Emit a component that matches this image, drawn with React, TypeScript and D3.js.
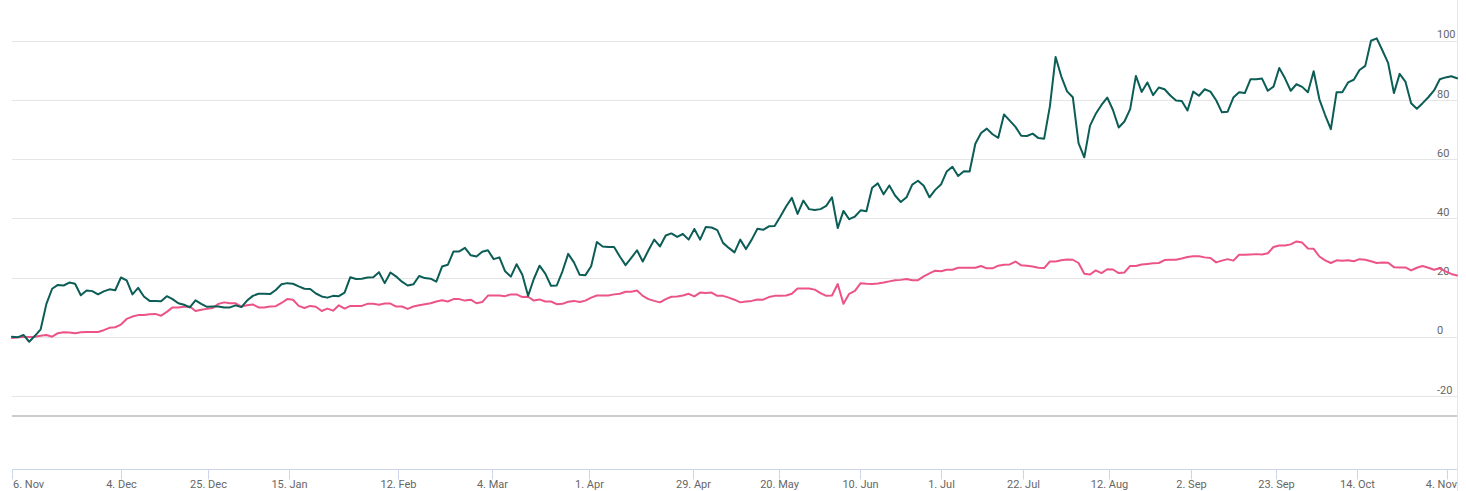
import React from "react";
import * as d3 from "d3";

// ---- data (one point per trading session) ----
const greenSeries: number[] = [
  0.2, 0, 0.8, -1.5, 0.5, 2.7, 11.3, 16.4, 17.7, 17.5,
  18.5, 18.1, 14.2, 15.8, 15.6, 14.5, 15.5, 16.2, 15.9, 20.2,
  19.2, 14.5, 16.7, 13.8, 12.3, 12.3, 12.2, 13.9, 12.9, 11.5,
  11.0, 10.1, 12.5, 11.3, 10.3, 10.4, 10.4, 10.1, 10.1, 10.8,
  10.2, 12.4, 14.0, 14.7, 14.7, 14.6, 16.0, 17.9, 18.3, 18.1,
  17.2, 16.4, 16.3, 14.8, 13.8, 13.4, 14.0, 13.9, 15.1, 20.3,
  19.7, 19.8, 20.2, 20.3, 22.0, 18.3, 21.9, 20.5, 18.8, 17.5,
  17.9, 20.7, 20.0, 19.8, 18.8, 23.9, 24.5, 29.0, 29.0, 30.2,
  27.7, 27.3, 28.9, 29.4, 26.4, 27.0, 22.3, 20.5, 24.7, 21.1,
  14.0, 19.7, 24.2, 21.5, 17.4, 17.5, 22.3, 28.2, 25.3, 21.1,
  21.0, 24.0, 32.2, 30.7, 30.5, 30.5, 27.3, 24.4, 26.8, 29.4,
  25.6, 29.4, 33.0, 30.7, 34.4, 35.1, 33.9, 34.9, 33.0, 36.6,
  33.0, 37.3, 37.1, 36.2, 31.9, 30.2, 28.7, 33.0, 29.8, 33.0,
  36.7, 36.3, 37.5, 37.6, 40.8, 44.2, 47.1, 41.7, 46.2, 43.3,
  43.0, 43.3, 44.4, 47.3, 36.9, 42.7, 39.9, 40.8, 42.9, 42.6,
  50.5, 52.0, 48.3, 51.3, 47.9, 45.7, 47.3, 51.6, 52.9, 51.2,
  47.3, 49.8, 51.6, 56.0, 57.6, 54.5, 56.1, 56.0, 65.4, 69.0,
  70.5, 68.6, 67.4, 75.3, 73.2, 71.1, 68.1, 68.0, 68.8, 67.3,
  67.1, 78.0, 94.7, 88.1, 83.1, 81.1, 65.6, 60.8, 71.5, 75.5,
  78.5, 81.0, 76.8, 70.9, 72.9, 77.1, 88.3, 82.9, 86.1, 81.8,
  84.4, 83.8, 81.7, 80.0, 79.8, 76.6, 83.0, 81.6, 83.8, 83.0,
  80.1, 76.0, 76.2, 81.0, 82.8, 82.5, 87.2, 87.2, 87.4, 83.3,
  84.7, 91.0, 87.5, 83.3, 85.5, 84.6, 82.8, 89.9, 80.4, 75.1,
  70.3, 82.8, 82.8, 86.1, 87.0, 90.3, 91.7, 100.2, 101.0, 96.9,
  92.6, 82.5, 89.0, 86.4, 79.1, 77.2, 79.1, 81.1, 83.4, 87.2,
  87.8, 88.2, 87.5,
];

const pinkSeries: number[] = [
  -0.2, 0, 0.1, 0.1, 0.2, 0.5, 0.8, 0.2, 1.4, 1.7,
  1.6, 1.4, 1.7, 1.8, 1.8, 1.8, 2.4, 3.2, 3.4, 4.3,
  6.2, 7.0, 7.5, 7.5, 7.8, 7.9, 7.3, 8.6, 10.1, 10.1,
  10.3, 10.4, 8.9, 9.3, 9.6, 9.9, 11.3, 11.8, 11.5, 11.5,
  10.4, 10.8, 11.1, 10.1, 10.1, 10.4, 10.5, 11.6, 12.9, 12.7,
  10.6, 9.9, 10.6, 10.3, 8.9, 9.7, 9.0, 10.8, 9.7, 10.6,
  10.6, 10.6, 11.3, 11.3, 11.0, 11.4, 11.4, 10.4, 10.4, 9.6,
  10.4, 10.8, 11.2, 11.5, 12.1, 12.5, 12.1, 12.9, 12.9, 12.4,
  12.7, 11.5, 11.9, 14.1, 14.1, 14.1, 13.9, 14.5, 14.5, 13.6,
  13.7, 12.4, 12.8, 12.1, 12.1, 11.2, 11.3, 12.0, 12.3, 11.9,
  12.4, 13.4, 14.1, 14.1, 14.1, 14.5, 14.7, 15.4, 15.4, 15.8,
  14.0, 12.9, 12.3, 11.8, 12.9, 13.7, 13.8, 14.1, 14.7, 13.8,
  15.1, 15.0, 15.1, 14.0, 14.0, 13.4, 12.7, 11.8, 12.1, 12.3,
  12.8, 12.7, 13.6, 14.0, 14.0, 14.1, 14.7, 16.5, 16.5, 16.5,
  16.1, 14.9, 14.0, 14.1, 18.0, 11.3, 14.7, 15.7, 18.3, 18.1,
  18.0, 18.2, 18.5, 18.9, 19.3, 19.4, 19.7, 19.3, 19.3, 20.6,
  21.6, 22.5, 22.3, 22.8, 22.8, 23.5, 23.5, 23.5, 23.5, 24.1,
  23.3, 23.3, 24.2, 24.5, 24.6, 25.6, 24.3, 24.2, 23.9, 23.5,
  23.4, 25.6, 25.6, 26.0, 26.3, 26.2, 25.1, 21.5, 21.2, 22.6,
  21.7, 23.0, 22.9, 21.7, 21.9, 24.1, 24.1, 24.6, 24.8, 25.0,
  25.1, 26.1, 26.2, 26.2, 26.6, 27.1, 27.4, 27.4, 27.0, 26.8,
  25.3, 25.9, 26.4, 25.9, 27.9, 27.9, 28.0, 28.1, 28.0, 28.4,
  30.5, 31.0, 31.0, 31.4, 32.4, 32.0, 30.0, 29.9, 27.3, 26.0,
  25.1, 26.0, 25.9, 26.0, 25.7, 26.4, 26.2, 25.7, 25.1, 25.3,
  25.2, 23.7, 23.6, 23.6, 22.6, 23.5, 24.1, 23.5, 22.8, 23.3,
  22.3, 21.4, 20.9,
];

const tickLabels: string[] = [
  "6. Nov", "4. Dec", "25. Dec", "15. Jan", "12. Feb", "4. Mar", "1. Apr",
  "29. Apr", "20. May", "10. Jun", "1. Jul", "22. Jul", "12. Aug", "2. Sep",
  "23. Sep", "14. Oct", "4. Nov",
];
// position of each date label on the ordinal (session-index) axis
const tickIndex: number[] = [
  0, 19.0, 34.1, 48.3, 67.3, 83.7, 100.6, 118.8, 133.8, 147.9, 162.0,
  176.3, 191.3, 205.6, 220.4, 234.6, 250.3,
];
const yTicks: number[] = [-20, 0, 20, 40, 60, 80, 100];

const W = 1466;
const H = 491;
const FONT = "Roboto, 'Noto Sans', sans-serif";

export default function App() {
  const left = 12;
  const right = 1457;
  const x = d3.scaleLinear().domain([0, greenSeries.length - 1]).range([left, right]);
  const y = d3.scaleLinear().domain([-20, 100]).range([396.5, 41.3]);

  const line = d3
    .line<number>()
    .x((_, i) => x(i))
    .y((d) => y(d));

  const axisY = 469.5;

  return (
    <svg
      width={W}
      height={H}
      style={{ position: "absolute", left: 0, top: 0, background: "#fff" }}
      fontFamily={FONT}
    >
      <rect x={0} y={0} width={W} height={H} fill="#ffffff" />
      {/* grid lines */}
      {yTicks.map((t) => (
        <line
          key={"g" + t}
          x1={left}
          x2={right}
          y1={Math.floor(y(t)) + 0.5}
          y2={Math.floor(y(t)) + 0.5}
          stroke="#e6e6e6"
          strokeWidth={1}
        />
      ))}
      {/* right border */}
      <line x1={right + 0.5} x2={right + 0.5} y1={0} y2={H} stroke="#e6e6e6" strokeWidth={1} />
      {/* y labels */}
      {yTicks.map((t) => (
        <text
          key={"yl" + t}
          x={1437}
          y={y(t) - 3}
          fontSize={11}
          fill="#666666"
          textAnchor="start"
        >
          {t}
        </text>
      ))}
      {/* separator */}
      <line x1={left} x2={right} y1={416} y2={416} stroke="#cccccc" strokeWidth={2} />
      {/* x axis */}
      <line x1={left} x2={right} y1={axisY} y2={axisY} stroke="#ccd6eb" strokeWidth={1} />
      {tickIndex.map((ti, k) => {
        const px = Math.round(x(ti)) + 0.5;
        const anchor = k === 0 ? "start" : k === tickIndex.length - 1 ? "end" : "middle";
        const tx = k === 0 ? px + 0.5 : k === tickIndex.length - 1 ? right : px;
        return (
          <g key={"xt" + k}>
            <line x1={px} x2={px} y1={axisY} y2={axisY + 10} stroke="#ccd6eb" strokeWidth={1} />
            <text x={tx} y={488} fontSize={11} fill="#666666" textAnchor={anchor}>
              {tickLabels[k]}
            </text>
          </g>
        );
      })}
      {/* series */}
      <path
        d={line(pinkSeries) || ""}
        fill="none"
        stroke="#ec5487"
        strokeWidth={2}
        strokeLinejoin="round"
        strokeLinecap="round"
      />
      <path
        d={line(greenSeries) || ""}
        fill="none"
        stroke="#0b5d56"
        strokeWidth={2}
        strokeLinejoin="round"
        strokeLinecap="round"
      />
    </svg>
  );
}
